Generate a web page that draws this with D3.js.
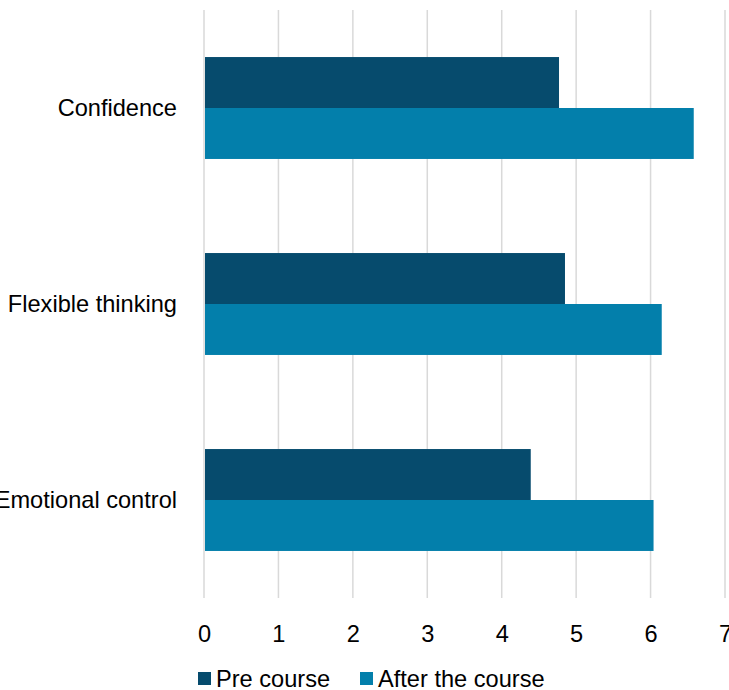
<!DOCTYPE html>
<html>
<head>
<meta charset="utf-8">
<script src="https://cdn.jsdelivr.net/npm/d3@7"></script>
<style>
body { margin: 0; background: #fff; }
text { font-family: "Liberation Sans", Arial, sans-serif; fill: #000; }
</style>
</head>
<body>
<svg id="chart" width="729" height="690"></svg>
<script>
var categories = ['Confidence', 'Flexible thinking', 'Emotional control'];
var seriesNames = ['Pre course', 'After the course'];
var preCourse = [4.77, 4.85, 4.39];
var afterCourse = [6.58, 6.15, 6.04];
var xTicks = [0, 1, 2, 3, 4, 5, 6, 7];
var colors = ['#064b6d', '#037fab'];

var fontSize = '23.6px';
var svg = d3.select('#chart');
var margin = { top: 10, left: 204, right: 6, bottom: 92 };
var height = 690 - margin.top - margin.bottom;

var x = d3.scaleLinear().domain([0, 7]).range([0, 521]);
var y = d3.scaleBand().domain(categories).range([0, height]).paddingInner(0.48).paddingOuter(0.24);
var ySub = d3.scaleBand().domain(seriesNames).range([0, y.bandwidth()]);

var g = svg.append('g').attr('transform', 'translate(' + margin.left + ',' + margin.top + ')');

// grid
g.append('g').selectAll('line').data(xTicks)
	.enter().append('line')
		.attr('x1', function(d) { return x(d); })
		.attr('x2', function(d) { return x(d); })
		.attr('y1', 0)
		.attr('y2', height)
		.attr('stroke', '#d9d9d9')
		.attr('stroke-width', 1.5);

// bars
var rows = categories.map(function(c, i) {
	return { cat: c, values: [preCourse[i], afterCourse[i]] };
});

var groups = g.selectAll('.row').data(rows)
	.enter().append('g')
		.attr('transform', function(d) { return 'translate(0,' + y(d.cat) + ')'; });

groups.selectAll('rect').data(function(d) {
		return d.values.map(function(v, i) { return { name: seriesNames[i], value: v, i: i }; });
	})
	.enter().append('rect')
		.attr('x', x(0) + 1)
		.attr('y', function(d) { return ySub(d.name); })
		.attr('width', function(d) { return x(d.value) - x(0) - 1; })
		.attr('height', ySub.bandwidth())
		.attr('fill', function(d) { return colors[d.i]; });

// category labels
g.append('g').selectAll('text').data(categories)
	.enter().append('text')
		.attr('x', -27)
		.attr('y', function(d) { return y(d) + y.bandwidth() / 2; })
		.attr('dy', '0.35em')
		.attr('text-anchor', 'end')
		.style('font-size', fontSize)
		.text(function(d) { return d; });

// x axis labels
var xAxis = d3.axisBottom(x).tickValues(xTicks).tickFormat(d3.format('d')).tickSize(0).tickPadding(0);
var ax = g.append('g').attr('transform', 'translate(0,' + (height + 27) + ')').call(xAxis);
ax.select('.domain').remove();
ax.selectAll('text').style('font-size', fontSize);
ax.attr('font-family', null).attr('font-size', null);

// legend
var legend = svg.append('g').attr('transform', 'translate(198,679)');
var legendX = [0, 162];
seriesNames.forEach(function(name, i) {
	var item = legend.append('g').attr('transform', 'translate(' + legendX[i] + ',0)');
	item.append('rect')
		.attr('x', 0).attr('y', -7)
		.attr('width', 13).attr('height', 13)
		.attr('fill', colors[i]);
	item.append('text')
		.attr('x', 18).attr('y', 0)
		.attr('dy', '0.35em')
		.style('font-size', fontSize)
		.text(name);
});
</script>
</body>
</html>
